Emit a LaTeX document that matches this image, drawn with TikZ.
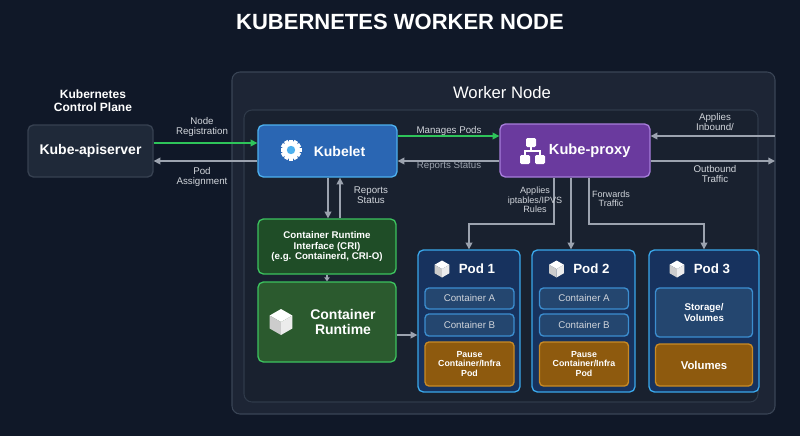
\documentclass[tikz,border=0pt]{standalone}
\usepackage{fontspec}
\setmainfont{Liberation Sans}
\usetikzlibrary{arrows.meta}
\definecolor{bg}{HTML}{101828}
\definecolor{outerf}{HTML}{1D2535}
\definecolor{outerd}{HTML}{3A4556}
\definecolor{innerf}{HTML}{19212F}
\definecolor{innerd}{HTML}{2F3A4A}
\definecolor{apif}{HTML}{1F2939}
\definecolor{apid}{HTML}{374151}
\definecolor{kubf}{HTML}{2A66B3}
\definecolor{kubd}{HTML}{4DB0EE}
\definecolor{prof}{HTML}{6A3A9E}
\definecolor{prod}{HTML}{A77DDB}
\definecolor{grf}{HTML}{1F4D27}
\definecolor{grf2}{HTML}{2B5A2E}
\definecolor{grd}{HTML}{3CC25E}
\definecolor{podf}{HTML}{17325E}
\definecolor{podd}{HTML}{3AA7EA}
\definecolor{conf}{HTML}{24466F}
\definecolor{cond}{HTML}{3C8ED0}
\definecolor{orf}{HTML}{8E5A0E}
\definecolor{ord}{HTML}{C98A25}
\definecolor{lbl}{HTML}{D1D5DB}
\definecolor{arr}{HTML}{9CA3AF}
\definecolor{grn}{HTML}{2EC45A}
\tikzset{
 box/.style={rounded corners=4pt,line width=1pt,align=center,text=white,font=\bfseries,inner sep=0pt},
 lab/.style={text=lbl,font=\fontsize{7.3}{7.6}\selectfont,align=center,inner sep=1pt},
 ga/.style={draw=arr,line width=1.1pt,-{Triangle[length=5pt,width=5pt]}},
 gn/.style={draw=grn,line width=1.1pt,-{Triangle[length=5pt,width=5pt]}},
 cube/.pic={\fill[white] (0,-1)--(0.87,-0.5)--(0,0)--(-0.87,-0.5)--cycle;
   \fill[gray!40] (-0.87,-0.5)--(0,0)--(0,1)--(-0.87,0.5)--cycle;
   \fill[gray!15] (0.87,-0.5)--(0,0)--(0,1)--(0.87,0.5)--cycle;}
}
\begin{document}
\begin{tikzpicture}[x=0.75pt,y=-0.75pt]
\fill[bg] (0,0) rectangle (800,436);
\useasboundingbox (0,0) rectangle (800,436);
\node[text=white,font=\bfseries\fontsize{16.5}{18}\selectfont] (title) at (400,22) {KUBERNETES WORKER NODE};
\draw[fill=outerf,draw=outerd,line width=0.8pt,rounded corners=6pt] (232,72) rectangle (775,414);
\node[text=white,font=\fontsize{12.5}{14}\selectfont] (wn) at (502,93) {Worker Node};
\draw[fill=innerf,draw=innerd,line width=0.8pt,rounded corners=6pt] (244,110) rectangle (758,402);
\node[text=white,font=\bfseries\fontsize{9}{9.5}\selectfont,align=center] (cp) at (93,101) {Kubernetes\\Control Plane};

\node[box,fill=apif,draw=apid,minimum width=93.75pt,minimum height=39pt,font=\bfseries\fontsize{10.5}{12}\selectfont] (api) at (90.5,151) {Kube-apiserver};
\node[box,fill=kubf,draw=kubd,minimum width=104.25pt,minimum height=39pt,font=\bfseries\fontsize{10.5}{12}\selectfont] (kub) at (327.5,151) {\hspace*{18pt}Kubelet};
\node[box,fill=prof,draw=prod,minimum width=112.5pt,minimum height=39.75pt,font=\bfseries\fontsize{11}{12}\selectfont] (pro) at (575,150.5) {\hspace*{22pt}Kube-proxy};
\node[box,fill=grf,draw=grd,minimum width=103.5pt,minimum height=41.25pt,font=\bfseries\fontsize{7.3}{7.8}\selectfont] (cri) at (327,246.5) {Container Runtime\\Interface (CRI)\\(e.g. Containerd, CRI-O)};
\node[box,fill=grf2,draw=grd,minimum width=103.5pt,minimum height=60pt,font=\bfseries\fontsize{10.5}{11}\selectfont] (rt) at (327,322) {\hspace*{24pt}Container\\\hspace*{24pt}Runtime};

% gear
\fill[white] (291,150) circle (9);
\foreach \a in {0,30,...,330} \fill[white,rotate around={\a:(291,150)}] (289,139.5) rectangle (293,142);
\fill[kubd] (291,150) circle (4.2);
% network icon
\fill[white,rounded corners=1pt] (526,138) rectangle (536,147);
\fill[white,rounded corners=1pt] (520,155) rectangle (530,164);
\fill[white,rounded corners=1pt] (535,155) rectangle (545,164);
\draw[white,line width=1.2pt] (531,147)--(531,151) (525,155)--(525,151)--(540,151)--(540,155);
\pic[scale=13] at (281,322) {cube};

% pods
\foreach \n/\x/\w in {1/469/76.5,2/583.5/77.25}{
 \node[box,fill=podf,draw=podd,minimum width=\w pt,minimum height=106.5pt] (pod\n) at (\x,321) {};
 \node[text=white,font=\bfseries\fontsize{10}{11}\selectfont] (pt\n) at (\x+8,269) {Pod \n};
 \pic[scale=8.5] at (\x-27,269) {cube};
 \node[box,fill=conf,draw=cond,minimum width=66.75pt,minimum height=15.75pt,font=\fontsize{7.3}{8}\selectfont,text=lbl,rounded corners=3pt] (ca\n) at (\x+0.5,298.5) {Container A};
 \node[box,fill=conf,draw=cond,minimum width=66.75pt,minimum height=16.5pt,font=\fontsize{7.3}{8}\selectfont,text=lbl,rounded corners=3pt] (cb\n) at (\x+0.5,325) {Container B};
 \node[box,fill=orf,draw=ord,minimum width=66.75pt,minimum height=33pt,font=\bfseries\fontsize{6.6}{7}\selectfont,rounded corners=3pt] (pa\n) at (\x+0.5,364) {Pause\\Container/Infra\\Pod};
}
\node[box,fill=podf,draw=podd,minimum width=82.5pt,minimum height=106.5pt] (pod3) at (704,321) {};
\node[text=white,font=\bfseries\fontsize{10}{11}\selectfont] (pt3) at (712,269) {Pod 3};
\pic[scale=8.5] at (677,269) {cube};
\node[box,fill=conf,draw=cond,minimum width=72.75pt,minimum height=36.75pt,font=\bfseries\fontsize{7.3}{7.6}\selectfont,rounded corners=3pt] (sto) at (704,312.5) {Storage/\\Volumes};
\node[box,fill=orf,draw=ord,minimum width=72.75pt,minimum height=31.5pt,font=\bfseries\fontsize{8.5}{9}\selectfont,rounded corners=3pt] (vol) at (704,365) {Volumes};

% arrows
\draw[gn] (api.east |- 0,143) -- (kub.west |- 0,143);
\node[lab] (l1) at (202,127) {Node\\Registration};
\draw[ga] (kub.west |- 0,161) -- (api.east |- 0,161);
\node[lab] (l2) at (202,177) {Pod\\Assignment};
\draw[gn] (kub.east |- 0,136) -- (pro.west |- 0,136);
\node[lab] (l3) at (449,131) {Manages Pods};
\draw[ga] (pro.west |- 0,161) -- (kub.east |- 0,161);
\node[lab,text=arr] (l4) at (449,166) {Reports Status};
\draw[ga] (kub.south -| 328,0) -- (cri.north -| 328,0);
\draw[ga] (cri.north -| 340,0) -- (kub.south -| 340,0);
\node[lab] (l5) at (371,195) {Reports\\Status};
\draw[ga,-{Triangle[length=3pt,width=4pt]}] (cri.south) -- (rt.north);
\draw[ga] (rt.east |- 0,335) -- (pod1.west |- 0,335);
\coordinate (c1) at (554,224);
\coordinate (c2) at (589,224);
\draw[ga] (pro.south -| 554,0) -- (c1) -| (pod1.north);
\draw[ga] (pro.south -| 571,0) -- (pod2.north -| 571,0);
\draw[ga] (pro.south -| 589,0) -- (c2) -| (pod3.north);
\node[lab,font=\fontsize{6.8}{7}\selectfont] (l6) at (535,200) {Applies\\iptables/IPVS\\Rules};
\node[lab,font=\fontsize{6.8}{7}\selectfont] (l7) at (611,199) {Forwards\\Traffic};
\coordinate (rin) at (775,136);
\coordinate (rout) at (775,161);
\draw[ga] (rin) -- (pro.east |- rin);
\draw[ga] (pro.east |- rout) -- (rout);
\node[lab] (l8) at (715,122) {Applies\\Inbound/};
\node[lab] (l9) at (715,174) {Outbound\\Traffic};
\end{tikzpicture}
\end{document}
